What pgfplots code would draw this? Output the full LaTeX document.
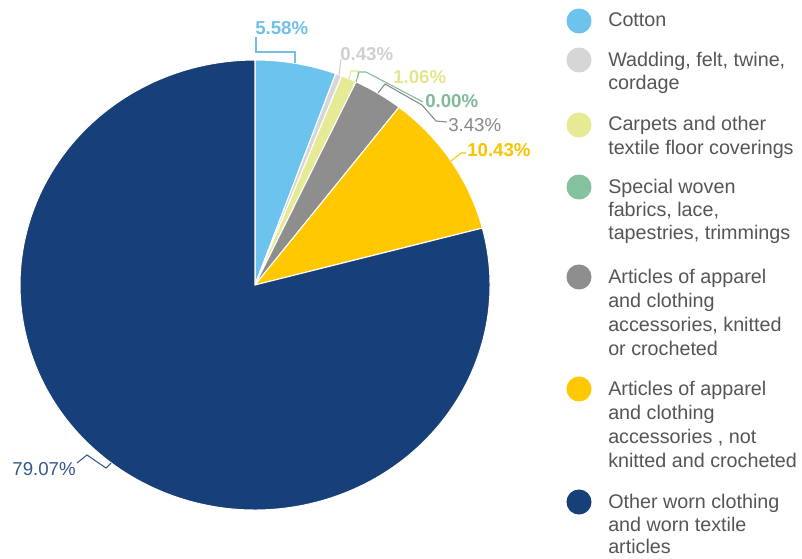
\documentclass[border=0pt]{standalone}
\usepackage{pgfplots}
\pgfplotsset{compat=1.18}
\usepackage{pgfplotstable}
\usepackage{fontspec}
\setmainfont{Liberation Sans}

\definecolor{cCotton}{HTML}{6CC4EE}
\definecolor{cWadding}{HTML}{D6D6D6}
\definecolor{cCarpets}{HTML}{E6EA95}
\definecolor{cSpecial}{HTML}{85C29F}
\definecolor{cKnitted}{HTML}{8E8E8E}
\definecolor{cNot}{HTML}{FFC800}
\definecolor{cOther}{HTML}{17407A}
\definecolor{lCotton}{HTML}{72C0E8}
\definecolor{lWadding}{HTML}{CFCFCF}
\definecolor{lCarpets}{HTML}{E2E68C}
\definecolor{lSpecial}{HTML}{7FBB99}
\definecolor{lKnitted}{HTML}{888888}
\definecolor{lNot}{HTML}{F8C400}
\definecolor{lOther}{HTML}{35578A}
\definecolor{legtext}{HTML}{555555}

\pgfplotstableread[col sep=comma]{
name,value,col
Cotton,5.58,cCotton
Wadding,0.43,cWadding
Carpets,1.06,cCarpets
Special,0.00,cSpecial
Knitted,3.43,cKnitted
NotKnitted,10.43,cNot
Other,79.07,cOther
}\piedata

\newcommand\ip[2]{(axis cs:#1,{558-(#2)})}
\newcommand\legfont{\fontsize{14.8}{18}\selectfont}
\newcommand\labfont{\fontsize{14}{16}\selectfont}
\newcommand\legline[2]{\node[anchor=base west, inner sep=0pt, font=\legfont, text=legtext] at (axis cs:608,{558-(#1)-6}) {#2};}

\begin{document}
\begin{tikzpicture}
\xdef\cum{90}
\foreach \i in {0,...,6}{%
  \pgfplotstablegetelem{\i}{value}\of\piedata
  \pgfmathsetmacro\e{\cum-3.6*\pgfplotsretval}%
  \expandafter\xdef\csname s\i\endcsname{\cum}%
  \expandafter\xdef\csname e\i\endcsname{\e}%
  \xdef\cum{\e}%
  \pgfplotstablegetelem{\i}{col}\of\piedata
  \expandafter\xdef\csname c\i\endcsname{\pgfplotsretval}%
}
\begin{axis}[
  scale only axis, width=601.5pt, height=418.5pt,
  xmin=0, xmax=802, ymin=0, ymax=558,
  hide axis, clip=false, disabledatascaling]
\pgfplotsinvokeforeach{0,1,2,4,5,6}{%
  \edef\tmp{\noexpand\fill[\csname c#1\endcsname, draw=white, line width=0.8pt]
    (axis cs:{255+235*cos(\csname s#1\endcsname)},{273+225*sin(\csname s#1\endcsname)})
    arc[start angle=\csname s#1\endcsname, end angle=\csname e#1\endcsname, x radius=176.25pt, y radius=168.75pt]
    -- (axis cs:255,273) -- cycle;}\tmp
}
% leader lines
\draw[lCotton, line width=0.8pt] \ip{295}{63} -- \ip{295}{52} -- \ip{256}{52} -- \ip{256}{37};
\draw[lWadding, line width=0.8pt] \ip{339}{75} -- \ip{341}{59};
\draw[lCarpets, line width=0.8pt] \ip{349}{79} -- \ip{351}{71} -- \ip{358}{71} -- \ip{358}{78};
\draw[lSpecial, line width=0.8pt] \ip{356}{82} -- \ip{359}{72} -- \ip{366}{72} -- \ip{423}{102};
\draw[lKnitted, line width=0.8pt] \ip{378}{93} -- \ip{385}{84} -- \ip{422}{105} -- \ip{436}{121} -- \ip{447}{122};
\draw[lNot, line width=0.8pt] \ip{451}{161} -- \ip{461}{153} -- \ip{466}{153};
\draw[lOther, line width=0.8pt] \ip{111}{463} -- \ip{106}{468} -- \ip{87}{455} -- \ip{77}{463};
% labels
\node[anchor=base west, inner sep=0pt, font=\labfont\bfseries, text=lCotton] at (axis cs:255,{558-27.5-6.8}) {5.58\%};
\node[anchor=base west, inner sep=0pt, font=\labfont\bfseries, text=lWadding] at (axis cs:340,{558-53.5-6.8}) {0.43\%};
\node[anchor=base west, inner sep=0pt, font=\labfont\bfseries, text=lCarpets] at (axis cs:393,{558-77-6.8}) {1.06\%};
\node[anchor=base west, inner sep=0pt, font=\labfont\bfseries, text=lSpecial] at (axis cs:425,{558-101-6.8}) {0.00\%};
\node[anchor=base west, inner sep=0pt, font=\labfont, text=lKnitted] at (axis cs:448,{558-125-6.8}) {3.43\%};
\node[anchor=base west, inner sep=0pt, font=\labfont\bfseries, text=lNot] at (axis cs:467,{558-150-6.8}) {10.43\%};
\node[anchor=base east, inner sep=0pt, font=\labfont, text=lOther] at (axis cs:76,{558-469-6.8}) {79.07\%};
% legend markers
\fill[cCotton] \ip{579}{21} circle[radius=9.4pt];
\fill[cWadding] \ip{579}{60} circle[radius=9.4pt];
\fill[cCarpets] \ip{579}{125} circle[radius=9.4pt];
\fill[cSpecial] \ip{579}{187} circle[radius=9.4pt];
\fill[cKnitted] \ip{579}{277} circle[radius=9.4pt];
\fill[cNot] \ip{579}{389} circle[radius=9.4pt];
\fill[cOther] \ip{579}{502} circle[radius=9.4pt];
% legend text
\legline{21}{Cotton}
\legline{61}{Wadding, felt, twine,}
\legline{84}{cordage}
\legline{125}{Carpets and other}
\legline{148}{textile floor coverings}
\legline{187}{Special woven}
\legline{210}{fabrics, lace,}
\legline{233}{tapestries, trimmings}
\legline{277}{Articles of apparel}
\legline{301}{and clothing}
\legline{325}{accessories, knitted}
\legline{349}{or crocheted}
\legline{389}{Articles of apparel}
\legline{413}{and clothing}
\legline{437}{accessories , not}
\legline{461}{knitted and crocheted}
\legline{502}{Other worn clothing}
\legline{525}{and worn textile}
\legline{547}{articles}
\end{axis}
\pgfresetboundingbox
\path (current axis.south west) rectangle (current axis.north east);
\end{tikzpicture}
\end{document}
